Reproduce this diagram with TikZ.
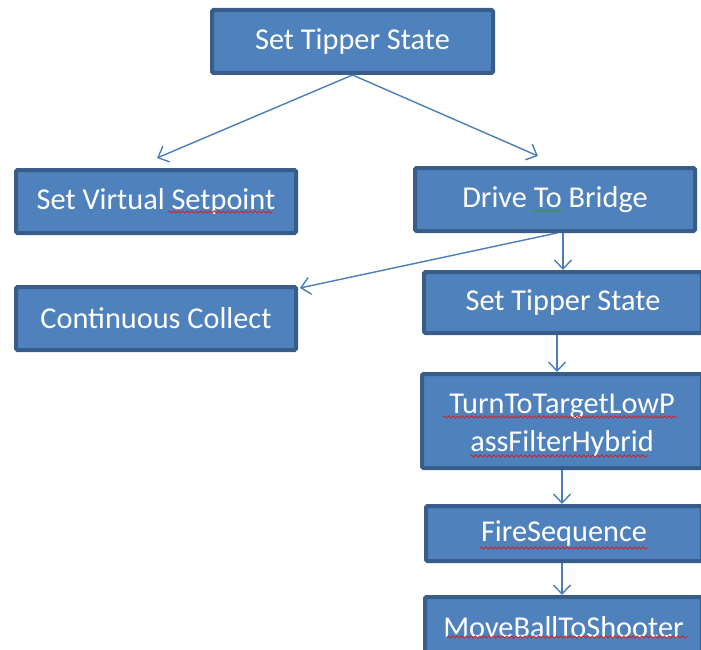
\documentclass[tikz,border=0pt]{standalone}
\usepackage{fontspec}
\setmainfont{Carlito}
\usetikzlibrary{arrows.meta,decorations.pathmorphing,calc}
\definecolor{boxfill}{HTML}{4F81BD}
\definecolor{boxline}{HTML}{385D8A}
\definecolor{arrowcol}{HTML}{4A7EBB}
\definecolor{squigred}{HTML}{D0242C}
\definecolor{squiggreen}{HTML}{3A9A3A}
\begin{document}
\begin{tikzpicture}[x=1pt,y=-1pt,
  box/.style={draw=boxline,fill=boxfill,line width=4pt,rounded corners=1.5pt,
    text=white,font=\fontsize{30.3}{38}\selectfont,align=center,inner sep=0pt},
  conn/.style={draw=arrowcol,line width=1.4pt,-{Straight Barb[length=9pt,width=17pt,line width=1.4pt]}},
  squig/.style={decorate,decoration={snake,segment length=4.5pt,amplitude=1.1pt},line width=0.9pt}]
\useasboundingbox (0,0) rectangle (701,650);
\node[box,minimum width=281pt,minimum height=63pt] (top) at (352.5,41.5) {Set Tipper State};
\node[box,minimum width=280pt,minimum height=63pt] (vs) at (156,201.5) {Set Virtual Setpoint};
\node[box,minimum width=280pt,minimum height=63pt] (dtb) at (555,199.5) {Drive To Bridge};
\node[box,minimum width=280pt,minimum height=63pt] (cc) at (156,318.5) {Continuous Collect};
\node[box,minimum width=278pt,minimum height=61pt] (st2) at (563,302.5) {Set Tipper State};
\node[box,minimum width=280pt,minimum height=94pt] (tt) at (562,421) {\raisebox{-4pt}[\height][\depth]{\begin{tabular}{@{}c@{}}TurnToTargetLowP\\assFilterHybrid\end{tabular}}};
\node[box,minimum width=276pt,minimum height=55pt] (fs) at (564,533.5) {FireSequence};
\node[box,minimum width=277pt,minimum height=61pt] (mb) at (563.5,627.5) {MoveBallToShooter};
% connector end points
\coordinate (tvs) at ($(vs.north)+(1,-10)$);
\coordinate (tdtb) at ($(dtb.north)+(-17,-10)$);
\coordinate (sdtb) at ($(dtb.south)+(2,0)$);
\coordinate (tcc) at ($(cc.north east)+(2,3)$);
\draw[conn] (top.south) -- (tvs);
\draw[conn] (top.south) -- (tdtb);
\draw[conn] (sdtb) -- (tcc);
\draw[conn] (dtb.south -| st2.north) -- (st2.north);
\draw[conn] ($(st2.south)+(-6,0)$) -- ($(tt.north)+(-5,0)$);
\draw[conn] (tt.south) -- (tt.south |- fs.north);
\draw[conn] (fs.south -| tt.south) -- (mb.north -| tt.south);
% spell-check squiggles
\draw[squig,squigred] (168,212) -- (273,212);
\draw[squig,squiggreen] (532,211) -- (563,211);
\draw[squig,squigred] (443,417) -- (677,417);
\draw[squig,squigred] (470,456) -- (648,456);
\draw[squig,squigred] (480,548) -- (648,548);
\draw[squig,squigred] (447,637) -- (688,637);
\end{tikzpicture}
\end{document}
